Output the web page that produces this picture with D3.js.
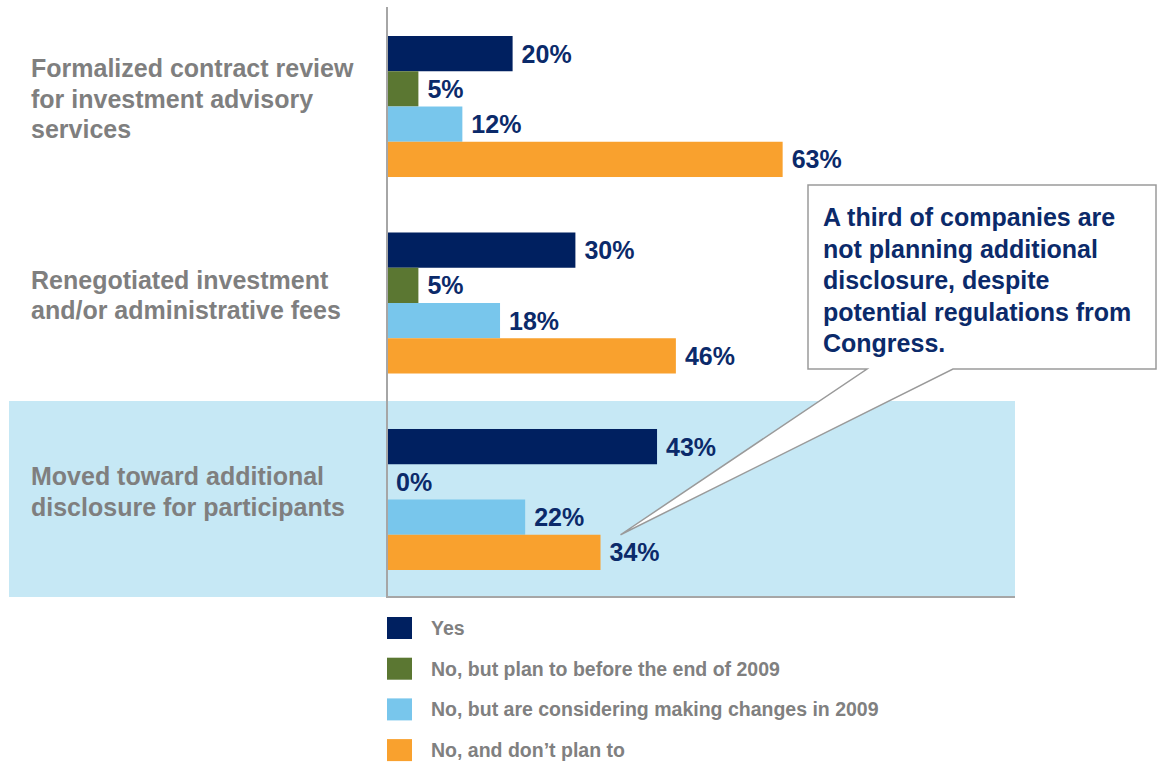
<!DOCTYPE html>
<html>
<head>
<meta charset="utf-8">
<script src="https://cdn.jsdelivr.net/npm/d3@7"></script>
<style>
  html, body { margin: 0; padding: 0; background: #fff; }
  svg { display: block; font-family: "Liberation Sans", Arial, sans-serif; font-weight: bold; }
</style>
</head>
<body>
<svg id="chart" width="1157" height="764"></svg>
<script>
// Survey actions and responses
const categories = [
  ["Formalized contract review", "for investment advisory", "services"],
  ["Renegotiated investment", "and/or administrative fees"],
  ["Moved toward additional", "disclosure for participants"]
];
const seriesNames = [
  "Yes",
  "No, but plan to before the end of 2009",
  "No, but are considering making changes in 2009",
  "No, and don\u2019t plan to"
];
const seriesColors = ["#002060", "#5B7732", "#78C6EC", "#F9A12E"];
const yesValues = [20, 30, 43];
const planValues = [5, 5, 0];
const consideringValues = [12, 18, 22];
const noPlanValues = [63, 46, 34];
const seriesValues = [yesValues, planValues, consideringValues, noPlanValues];

const calloutLines = [
  "A third of companies are",
  "not planning additional",
  "disclosure, despite",
  "potential regulations from",
  "Congress."
];

const svg = d3.select("#chart");
const navy = "#0B2A6A";
const grayText = "#7F7F7F";
const axisGray = "#A6A6A6";

const catIdx = d3.range(categories.length);
const x = d3.scaleLinear().domain([0, 100]).range([387, 1015]);
const y0 = d3.scaleBand().domain(catIdx).range([36, 570]).paddingInner(0.2824).paddingOuter(0);
const y1 = d3.scaleBand().domain(d3.range(seriesNames.length)).range([0, y0.bandwidth()]).padding(0);

// highlighted third row
const hiIdx = 2;
const hiPad = (y0.step() - y0.bandwidth()) / 2;
svg.append("rect")
  .attr("x", 9).attr("y", y0(hiIdx) - 28)
  .attr("width", x(100) - 9)
  .attr("height", 597 - (y0(hiIdx) - 28))
  .attr("fill", "#C6E8F5");

// bars
const g = svg.append("g");
catIdx.forEach(ci => {
  seriesValues.forEach((vals, si) => {
    const v = vals[ci];
    const yy = y0(ci) + y1(si);
    g.append("rect")
      .attr("x", x(0)).attr("y", yy)
      .attr("width", x(v) - x(0))
      .attr("height", y1.bandwidth())
      .attr("fill", seriesColors[si]);
    g.append("text")
      .attr("x", x(v) + 9)
      .attr("y", yy + y1.bandwidth() / 2)
      .attr("dy", "0.36em")
      .attr("fill", navy)
      .attr("font-size", 25)
      .text(v + "%");
  });
  // category label
  const lines = categories[ci];
  const lh = 30.5;
  const mid = y0(ci) + y0.bandwidth() / 2 - 8;
  const top = mid - (lines.length - 1) * lh / 2;
  const t = svg.append("text")
    .attr("fill", grayText).attr("font-size", 25);
  lines.forEach((ln, li) => {
    t.append("tspan").attr("x", 31).attr("y", top + li * lh).attr("dy", "0.36em").text(ln);
  });
});

// axes
svg.append("line")
  .attr("x1", x(0)).attr("x2", x(0)).attr("y1", 7).attr("y2", 597)
  .attr("stroke", axisGray).attr("stroke-width", 2);
svg.append("line")
  .attr("x1", x(0) - 1).attr("x2", x(100)).attr("y1", 597).attr("y2", 597)
  .attr("stroke", axisGray).attr("stroke-width", 2);

// callout with pointer to the "No, and don't plan to" bar of the third row
const box = { x: 808, y: 185, w: 348, h: 184 };
const tip = [x(noPlanValues[hiIdx]) + 20, y0(hiIdx) + y1(3)];
const pA = 867, pB = 953;
const bx2 = box.x + box.w, by2 = box.y + box.h;
const path = [
  [box.x, box.y], [bx2, box.y], [bx2, by2], [pB, by2], tip, [pA, by2], [box.x, by2]
];
svg.append("path")
  .attr("d", d3.line()(path) + "Z")
  .attr("fill", "#fff")
  .attr("stroke", "#9A9A9A").attr("stroke-width", 1.5)
  .attr("stroke-linejoin", "miter");

const ct = svg.append("text").attr("fill", navy).attr("font-size", 25);
calloutLines.forEach((ln, i) => {
  ct.append("tspan").attr("x", 823).attr("y", 226 + i * 31.6).text(ln);
});

// legend
const lg = svg.append("g");
seriesNames.forEach((name, i) => {
  const ly = 617 + i * 40.7;
  lg.append("rect")
    .attr("x", 387).attr("y", ly).attr("width", 25).attr("height", 22)
    .attr("fill", seriesColors[i]);
  lg.append("text")
    .attr("x", 431).attr("y", ly + 11).attr("dy", "0.36em")
    .attr("fill", "#808080").attr("font-size", 19.5)
    .text(name);
});
</script>
</body>
</html>
